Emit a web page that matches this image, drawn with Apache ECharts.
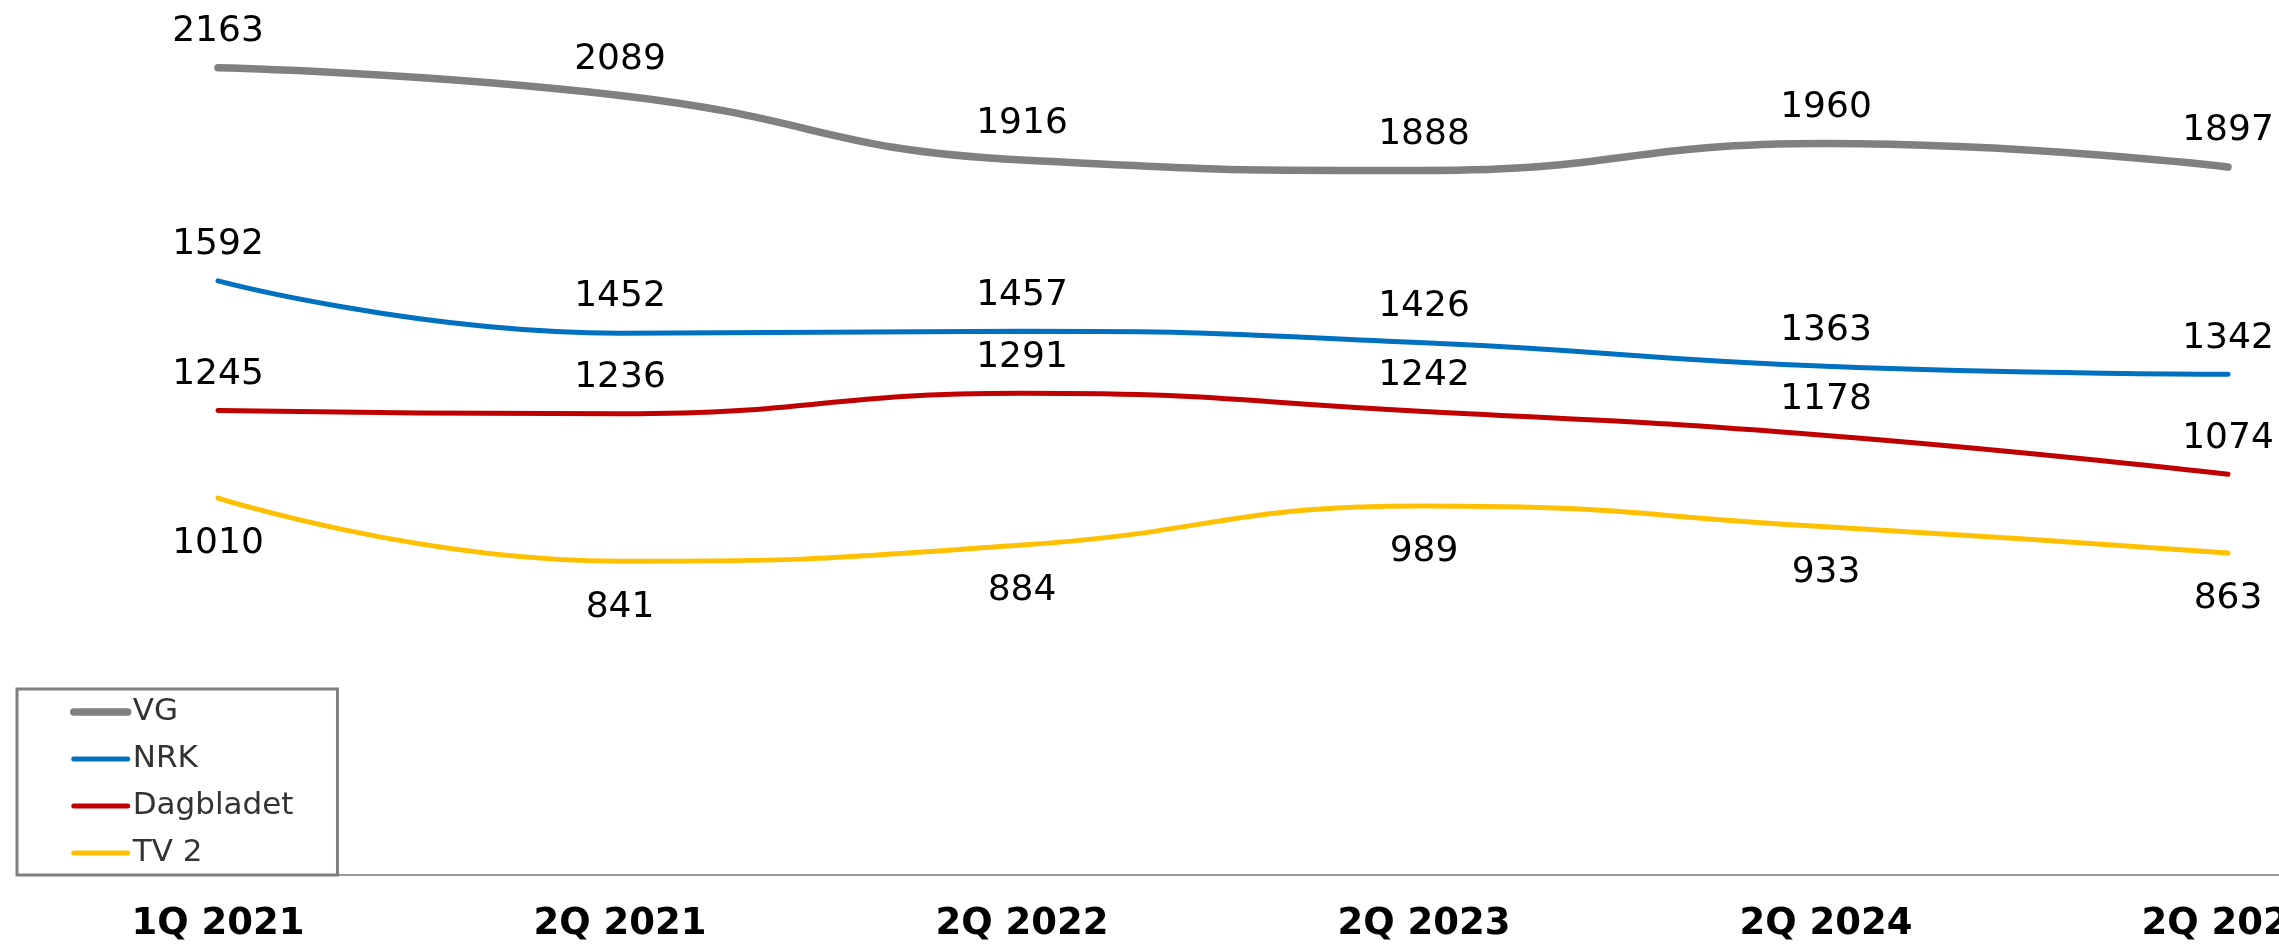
<!DOCTYPE html>
<html>
<head>
<meta charset="utf-8">
<script src="https://cdn.jsdelivr.net/npm/echarts@6/dist/echarts.min.js"></script>
<style>
  html, body { margin: 0; padding: 0; background: #fff; }
  #chart { width: 2279px; height: 947px; }
</style>
</head>
<body>
<div id="chart"></div>
<script>
// kategorier og verdier lest av figuren
const quarters = ["1Q 2021", "2Q 2021", "2Q 2022", "2Q 2023", "2Q 2024", "2Q 2025"];
const vg = [2163, 2089, 1916, 1888, 1960, 1897];
const nrk = [1592, 1452, 1457, 1426, 1363, 1342];
const dagbladet = [1245, 1236, 1291, 1242, 1178, 1074];
const tv2 = [1010, 841, 884, 989, 933, 863];

const font = "DejaVu Sans, Verdana, sans-serif";

function lineSeries(name, data, color, width, labelPos, dist) {
  return {
    name: name,
    type: "line",
    data: data,
    smooth: 0.5,
    symbol: "circle",
    symbolSize: 0,
    showSymbol: true,
    lineStyle: { color: color, width: width, cap: "round" },
    itemStyle: { color: color },
    label: {
      show: true,
      position: labelPos,
      distance: dist,
      color: "#000",
      fontFamily: font,
      fontSize: 36,
    },
    emphasis: { disabled: true },
  };
}

let chart = echarts.init(document.getElementById("chart"));
let option = {
  animation: false,
  backgroundColor: "#fff",
  grid: {
    left: 17,
    top: 54,
    width: 2412,
    height: 821,
    outerBoundsMode: "none",
  },
  legend: {
    orient: "vertical",
    left: 17,
    top: 689,
    padding: [5, 44, 4, 53],
    borderColor: "#808080",
    borderWidth: 3,
    itemWidth: 54,
    itemHeight: 14,
    itemGap: 11,
    itemStyle: { opacity: 0 },
    textStyle: { color: "#333", fontFamily: font, fontSize: 31, lineHeight: 36 },
    data: [
      { name: "VG", lineStyle: { width: 7.5, cap: "round" } },
      { name: "NRK", lineStyle: { width: 5, cap: "round" } },
      { name: "Dagbladet", lineStyle: { width: 5, cap: "round" } },
      { name: "TV 2", lineStyle: { width: 5, cap: "round" } },
    ],
  },
  xAxis: {
    type: "category",
    data: quarters,
    boundaryGap: true,
    axisLine: { lineStyle: { color: "#999", width: 2 } },
    axisTick: { show: false },
    axisLabel: {
      color: "#000",
      fontFamily: font,
      fontSize: 37,
      fontWeight: "bold",
      margin: 31,
      interval: 0,
    },
  },
  yAxis: {
    type: "value",
    min: 0,
    max: 2200,
    show: false,
    splitLine: { show: false },
  },
  series: [
    lineSeries("VG", vg, "#808080", 7.5, "top", 18),
    lineSeries("NRK", nrk, "#0070C0", 5, "top", 18),
    lineSeries("Dagbladet", dagbladet, "#C00000", 5, "top", 18),
    lineSeries("TV 2", tv2, "#FFC000", 5, "bottom", 28),
  ],
};
chart.setOption(option);
</script>
</body>
</html>
